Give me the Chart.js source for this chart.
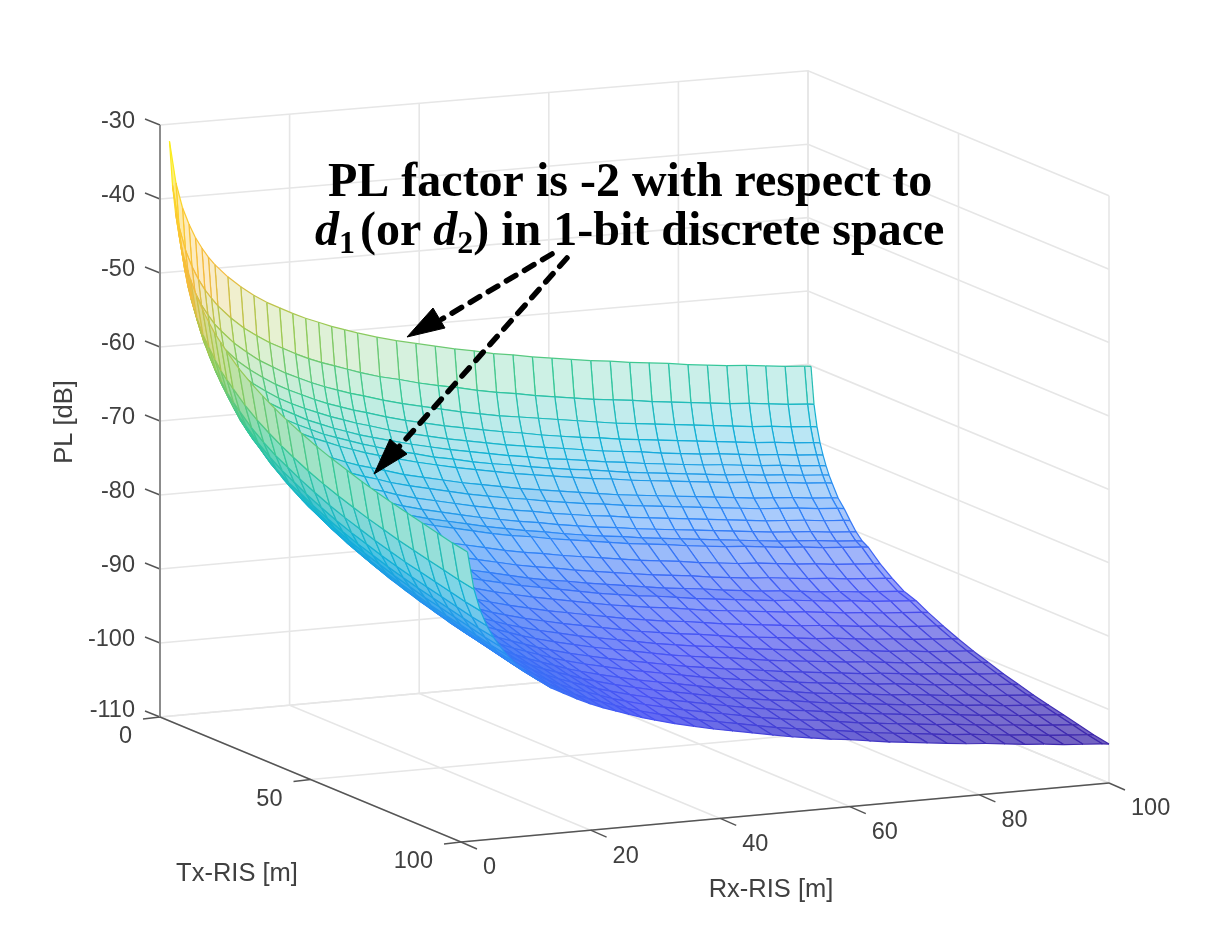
<!DOCTYPE html>
<html>
<head>
<meta charset="utf-8">
<title>PL surface</title>
<script src="https://cdn.jsdelivr.net/npm/chart.js@4/dist/chart.umd.min.js"></script>
<style>
  html, body { margin: 0; padding: 0; background: #fff; }
  canvas { display: block; }
</style>
</head>
<body>
<canvas id="myChart" width="1228" height="948"></canvas>
<script>
// axis ticks
const zTicks = [-30, -40, -50, -60, -70, -80, -90, -100, -110];
const rxTicks = [0, 20, 40, 60, 80, 100];
const txTicks = [0, 50, 100];

// mesh samples, metres
const txValues = [1,2,3,4,5,6,7,8,10,12,14,16,18,20,24,28,32,36,40,45,50,55,60,65,70,75,80,85,90,95,100];
const rxValues = [1,2,3,4,5,6,7,8,10,12,14,16,18,20,22,24,26,28,30,33,36,39,42,45,48,51,54,57,60,63,66,69,72,75,78,81,84,87,90,93,96,99,100];

// PL [dB], one row per txValues entry, one column per rxValues entry
const plRows = [
[-32.1,-37.8,-41.2,-43.5,-45.4,-46.9,-48.2,-49.3,-51.1,-52.6,-53.9,-55.0,-55.9,-56.8,-57.6,-58.3,-59.0,-59.6,-60.2,-61.0,-61.7,-62.3,-62.9,-63.5,-64.0,-64.6,-65.0,-65.5,-65.9,-66.3,-66.7,-67.0,-67.4,-67.7,-68.0,-68.4,-68.7,-69.0,-69.2,-69.5,-69.8,-70.0,-70.1],
[-37.9,-43.5,-46.8,-49.1,-50.9,-52.4,-53.6,-54.7,-56.5,-58.0,-59.2,-60.3,-61.2,-62.1,-62.9,-63.6,-64.2,-64.8,-65.4,-66.2,-66.8,-67.5,-68.1,-68.6,-69.2,-69.7,-70.1,-70.6,-71.0,-71.4,-71.8,-72.1,-72.4,-72.8,-73.1,-73.4,-73.7,-74.0,-74.2,-74.5,-74.8,-75.0,-75.1],
[-41.4,-46.9,-50.1,-52.4,-54.2,-55.6,-56.9,-57.9,-59.7,-61.1,-62.4,-63.4,-64.4,-65.2,-66.0,-66.7,-67.3,-67.9,-68.4,-69.2,-69.9,-70.5,-71.1,-71.7,-72.2,-72.7,-73.1,-73.5,-73.9,-74.3,-74.7,-75.1,-75.4,-75.7,-76.0,-76.3,-76.6,-76.9,-77.2,-77.4,-77.7,-77.9,-78.0],
[-43.8,-49.2,-52.4,-54.7,-56.5,-57.9,-59.1,-60.1,-61.9,-63.3,-64.5,-65.6,-66.5,-67.3,-68.1,-68.8,-69.4,-70.0,-70.5,-71.3,-72.0,-72.6,-73.2,-73.7,-74.2,-74.7,-75.1,-75.6,-76.0,-76.4,-76.7,-77.1,-77.4,-77.7,-78.0,-78.3,-78.6,-78.9,-79.2,-79.4,-79.7,-79.9,-80.0],
[-45.7,-51.1,-54.2,-56.5,-58.2,-59.6,-60.8,-61.9,-63.6,-65.0,-66.2,-67.3,-68.2,-69.0,-69.7,-70.4,-71.0,-71.6,-72.1,-72.9,-73.6,-74.2,-74.8,-75.3,-75.8,-76.3,-76.7,-77.1,-77.5,-77.9,-78.3,-78.6,-78.9,-79.3,-79.6,-79.9,-80.1,-80.4,-80.7,-80.9,-81.2,-81.4,-81.5],
[-47.2,-52.6,-55.7,-57.9,-59.6,-61.0,-62.2,-63.3,-65.0,-66.4,-67.6,-68.6,-69.5,-70.4,-71.1,-71.8,-72.4,-73.0,-73.5,-74.2,-74.9,-75.5,-76.1,-76.6,-77.1,-77.6,-78.0,-78.5,-78.8,-79.2,-79.6,-79.9,-80.3,-80.6,-80.9,-81.2,-81.4,-81.7,-82.0,-82.2,-82.5,-82.7,-82.8],
[-48.5,-53.8,-56.9,-59.2,-60.9,-62.3,-63.5,-64.5,-66.2,-67.6,-68.8,-69.8,-70.7,-71.5,-72.3,-72.9,-73.5,-74.1,-74.6,-75.4,-76.0,-76.7,-77.2,-77.8,-78.3,-78.7,-79.2,-79.6,-80.0,-80.3,-80.7,-81.1,-81.4,-81.7,-82.0,-82.3,-82.6,-82.8,-83.1,-83.3,-83.6,-83.8,-83.9],
[-49.6,-54.9,-58.0,-60.2,-61.9,-63.3,-64.5,-65.5,-67.2,-68.6,-69.8,-70.8,-71.7,-72.5,-73.2,-73.9,-74.5,-75.1,-75.6,-76.3,-77.0,-77.6,-78.2,-78.7,-79.2,-79.7,-80.1,-80.5,-80.9,-81.3,-81.6,-82.0,-82.3,-82.6,-82.9,-83.2,-83.5,-83.7,-84.0,-84.2,-84.5,-84.7,-84.8],
[-51.5,-56.8,-59.8,-62.0,-63.7,-65.1,-66.3,-67.3,-69.0,-70.4,-71.6,-72.6,-73.5,-74.3,-75.0,-75.7,-76.3,-76.8,-77.3,-78.1,-78.7,-79.3,-79.9,-80.4,-80.9,-81.4,-81.8,-82.2,-82.6,-83.0,-83.4,-83.7,-84.0,-84.3,-84.6,-84.9,-85.2,-85.5,-85.7,-85.9,-86.2,-86.4,-86.5],
[-53.0,-58.2,-61.3,-63.4,-65.1,-66.5,-67.6,-68.6,-70.3,-71.7,-72.8,-73.8,-74.7,-75.5,-76.2,-76.9,-77.5,-78.0,-78.6,-79.3,-79.9,-80.5,-81.1,-81.6,-82.1,-82.5,-83.0,-83.4,-83.8,-84.1,-84.5,-84.8,-85.1,-85.4,-85.7,-86.0,-86.3,-86.6,-86.8,-87.0,-87.3,-87.5,-87.6],
[-54.3,-59.5,-62.6,-64.7,-66.4,-67.8,-68.9,-69.9,-71.6,-73.0,-74.1,-75.1,-76.0,-76.8,-77.5,-78.2,-78.8,-79.3,-79.9,-80.6,-81.2,-81.8,-82.4,-82.9,-83.4,-83.8,-84.3,-84.7,-85.1,-85.4,-85.8,-86.1,-86.4,-86.7,-87.0,-87.3,-87.6,-87.9,-88.1,-88.3,-88.6,-88.8,-88.9],
[-55.5,-60.7,-63.8,-65.9,-67.6,-69.0,-70.1,-71.1,-72.8,-74.2,-75.3,-76.3,-77.2,-78.0,-78.7,-79.4,-80.0,-80.5,-81.1,-81.8,-82.4,-83.0,-83.6,-84.1,-84.6,-85.0,-85.5,-85.9,-86.3,-86.6,-87.0,-87.3,-87.6,-87.9,-88.2,-88.5,-88.8,-89.1,-89.3,-89.5,-89.8,-90.0,-90.1],
[-56.4,-61.6,-64.7,-66.8,-68.5,-69.9,-71.0,-72.0,-73.7,-75.1,-76.2,-77.2,-78.1,-78.9,-79.6,-80.3,-80.9,-81.4,-82.0,-82.7,-83.3,-83.9,-84.5,-85.0,-85.5,-85.9,-86.4,-86.8,-87.2,-87.5,-87.9,-88.2,-88.5,-88.8,-89.1,-89.4,-89.7,-90.0,-90.2,-90.4,-90.7,-90.9,-91.0],
[-57.3,-62.4,-65.5,-67.6,-69.3,-70.6,-71.7,-72.7,-74.4,-75.8,-76.9,-77.9,-78.8,-79.5,-80.2,-80.9,-81.5,-82.0,-82.6,-83.3,-83.9,-84.5,-85.1,-85.6,-86.0,-86.5,-86.9,-87.3,-87.7,-88.1,-88.4,-88.7,-89.1,-89.4,-89.7,-89.9,-90.2,-90.5,-90.7,-91.0,-91.2,-91.4,-91.5],
[-58.9,-64.0,-67.1,-69.2,-70.9,-72.2,-73.3,-74.3,-76.0,-77.4,-78.5,-79.5,-80.4,-81.1,-81.8,-82.5,-83.1,-83.6,-84.2,-84.9,-85.5,-86.1,-86.7,-87.2,-87.6,-88.1,-88.5,-88.9,-89.3,-89.7,-90.0,-90.3,-90.7,-91.0,-91.3,-91.5,-91.8,-92.1,-92.3,-92.6,-92.8,-93.0,-93.1],
[-60.2,-65.3,-68.4,-70.5,-72.2,-73.5,-74.6,-75.6,-77.3,-78.7,-79.8,-80.8,-81.7,-82.4,-83.1,-83.8,-84.4,-84.9,-85.5,-86.2,-86.8,-87.4,-88.0,-88.5,-88.9,-89.4,-89.8,-90.2,-90.6,-91.0,-91.3,-91.6,-92.0,-92.3,-92.6,-92.8,-93.1,-93.4,-93.6,-93.9,-94.1,-94.3,-94.4],
[-61.3,-66.4,-69.5,-71.6,-73.3,-74.6,-75.7,-76.7,-78.4,-79.8,-80.9,-81.9,-82.8,-83.5,-84.2,-84.9,-85.5,-86.0,-86.6,-87.3,-87.9,-88.5,-89.1,-89.6,-90.0,-90.5,-90.9,-91.3,-91.7,-92.1,-92.4,-92.7,-93.1,-93.4,-93.7,-93.9,-94.2,-94.5,-94.7,-95.0,-95.2,-95.4,-95.5],
[-62.3,-67.4,-70.4,-72.5,-74.1,-75.4,-76.6,-77.6,-79.2,-80.5,-81.7,-82.6,-83.5,-84.3,-85.0,-85.6,-86.2,-86.8,-87.3,-88.0,-88.6,-89.2,-89.7,-90.2,-90.7,-91.2,-91.6,-92.0,-92.3,-92.7,-93.1,-93.4,-93.7,-94.0,-94.3,-94.5,-94.8,-95.1,-95.3,-95.6,-95.8,-96.0,-96.1],
[-63.2,-68.3,-71.3,-73.4,-75.0,-76.3,-77.5,-78.5,-80.1,-81.4,-82.6,-83.5,-84.4,-85.2,-85.9,-86.5,-87.1,-87.7,-88.2,-88.9,-89.5,-90.1,-90.6,-91.1,-91.6,-92.1,-92.5,-92.9,-93.2,-93.6,-94.0,-94.3,-94.6,-94.9,-95.2,-95.4,-95.7,-96.0,-96.2,-96.5,-96.7,-96.9,-97.0],
[-64.2,-69.3,-72.3,-74.4,-76.0,-77.3,-78.5,-79.5,-81.1,-82.4,-83.6,-84.5,-85.4,-86.2,-86.9,-87.5,-88.1,-88.7,-89.2,-89.9,-90.5,-91.1,-91.6,-92.1,-92.6,-93.1,-93.5,-93.9,-94.2,-94.6,-95.0,-95.3,-95.6,-95.9,-96.2,-96.4,-96.7,-97.0,-97.2,-97.5,-97.7,-97.9,-98.0],
[-65.1,-70.2,-73.2,-75.3,-76.9,-78.2,-79.4,-80.4,-82.0,-83.3,-84.5,-85.4,-86.3,-87.1,-87.8,-88.4,-89.0,-89.6,-90.1,-90.8,-91.4,-92.0,-92.5,-93.0,-93.5,-94.0,-94.4,-94.8,-95.1,-95.5,-95.9,-96.2,-96.5,-96.8,-97.1,-97.3,-97.6,-97.9,-98.1,-98.4,-98.6,-98.8,-98.9],
[-65.9,-71.0,-74.0,-76.1,-77.7,-79.0,-80.2,-81.2,-82.8,-84.1,-85.3,-86.2,-87.1,-87.9,-88.6,-89.2,-89.8,-90.4,-90.9,-91.6,-92.2,-92.8,-93.3,-93.8,-94.3,-94.8,-95.2,-95.6,-95.9,-96.3,-96.7,-97.0,-97.3,-97.6,-97.9,-98.1,-98.4,-98.7,-98.9,-99.2,-99.4,-99.6,-99.7],
[-66.6,-71.7,-74.7,-76.8,-78.4,-79.7,-80.9,-81.9,-83.5,-84.8,-86.0,-86.9,-87.8,-88.6,-89.3,-89.9,-90.5,-91.1,-91.6,-92.3,-92.9,-93.5,-94.0,-94.5,-95.0,-95.5,-95.9,-96.3,-96.6,-97.0,-97.4,-97.7,-98.0,-98.3,-98.6,-98.8,-99.1,-99.4,-99.6,-99.9,-100.1,-100.3,-100.4],
[-67.3,-72.4,-75.4,-77.5,-79.1,-80.4,-81.6,-82.6,-84.2,-85.5,-86.7,-87.6,-88.5,-89.3,-90.0,-90.6,-91.2,-91.8,-92.3,-93.0,-93.6,-94.2,-94.7,-95.2,-95.7,-96.2,-96.6,-97.0,-97.3,-97.7,-98.1,-98.4,-98.7,-99.0,-99.3,-99.5,-99.8,-100.1,-100.3,-100.6,-100.8,-101.0,-101.1],
[-67.9,-73.0,-76.0,-78.1,-79.7,-81.0,-82.2,-83.2,-84.8,-86.1,-87.3,-88.2,-89.1,-89.9,-90.6,-91.2,-91.8,-92.4,-92.9,-93.6,-94.2,-94.8,-95.3,-95.8,-96.3,-96.8,-97.2,-97.6,-97.9,-98.3,-98.7,-99.0,-99.3,-99.6,-99.9,-100.1,-100.4,-100.7,-100.9,-101.2,-101.4,-101.6,-101.7],
[-68.5,-73.6,-76.6,-78.7,-80.3,-81.6,-82.8,-83.8,-85.4,-86.7,-87.9,-88.8,-89.7,-90.5,-91.2,-91.8,-92.4,-93.0,-93.5,-94.2,-94.8,-95.4,-95.9,-96.4,-96.9,-97.4,-97.8,-98.2,-98.5,-98.9,-99.3,-99.6,-99.9,-100.2,-100.5,-100.7,-101.0,-101.3,-101.5,-101.8,-102.0,-102.2,-102.3],
[-69.0,-74.1,-77.1,-79.2,-80.8,-82.1,-83.3,-84.3,-85.9,-87.2,-88.4,-89.3,-90.2,-91.0,-91.7,-92.3,-92.9,-93.5,-94.0,-94.7,-95.3,-95.9,-96.4,-96.9,-97.4,-97.9,-98.3,-98.7,-99.0,-99.4,-99.8,-100.1,-100.4,-100.7,-101.0,-101.2,-101.5,-101.8,-102.0,-102.3,-102.5,-102.7,-102.8],
[-69.5,-74.6,-77.6,-79.7,-81.3,-82.6,-83.8,-84.8,-86.4,-87.7,-88.9,-89.8,-90.7,-91.5,-92.2,-92.8,-93.4,-94.0,-94.5,-95.2,-95.8,-96.4,-96.9,-97.4,-97.9,-98.4,-98.8,-99.2,-99.5,-99.9,-100.3,-100.6,-100.9,-101.2,-101.5,-101.7,-102.0,-102.3,-102.5,-102.8,-103.0,-103.2,-103.3],
[-70.0,-75.1,-78.1,-80.2,-81.8,-83.1,-84.3,-85.3,-86.9,-88.2,-89.4,-90.3,-91.2,-92.0,-92.7,-93.3,-93.9,-94.5,-95.0,-95.7,-96.3,-96.9,-97.4,-97.9,-98.4,-98.9,-99.3,-99.7,-100.0,-100.4,-100.8,-101.1,-101.4,-101.7,-102.0,-102.2,-102.5,-102.8,-103.0,-103.3,-103.5,-103.7,-103.8],
[-70.5,-75.6,-78.6,-80.7,-82.3,-83.6,-84.8,-85.8,-87.4,-88.7,-89.9,-90.8,-91.7,-92.5,-93.2,-93.8,-94.4,-95.0,-95.5,-96.2,-96.8,-97.4,-97.9,-98.4,-98.9,-99.4,-99.8,-100.2,-100.5,-100.9,-101.3,-101.6,-101.9,-102.2,-102.5,-102.7,-103.0,-103.3,-103.5,-103.8,-104.0,-104.2,-104.3],
[-70.9,-76.0,-79.0,-81.1,-82.7,-84.0,-85.2,-86.2,-87.8,-89.1,-90.3,-91.2,-92.1,-92.9,-93.6,-94.2,-94.8,-95.4,-95.9,-96.6,-97.2,-97.8,-98.3,-98.8,-99.3,-99.8,-100.2,-100.6,-100.9,-101.3,-101.7,-102.0,-102.3,-102.6,-102.9,-103.1,-103.4,-103.7,-103.9,-104.2,-104.4,-104.6,-104.7]
];

// parula stops
const parula = [[62,38,168],[72,82,244],[46,135,247],[18,177,214],[55,200,151],[151,202,85],[245,186,61],[252,205,45],[249,251,20]];
const zMin = -104.7, zMax = -32.1;

function pl2rgb(z) {
  let f = (z - zMin) / (zMax - zMin) * (parula.length - 1);
  f = Math.max(0, Math.min(parula.length - 1.001, f));
  const i = Math.floor(f), w = f - i;
  return parula[i].map((v, k) => Math.round(v + (parula[i + 1][k] - v) * w));
}
function pl2color(z) {
  return 'rgb(' + pl2rgb(z).join(',') + ')';
}

// fixed view of the 3d box onto the flat chart plane
function project(rx, tx, pl) {
  return {
    x: 160 + 6.48 * rx + 3.01 * tx,
    y: 717 - 0.59 * rx + 1.25 * tx - (7.4 - 0.0006 * rx) * (pl + 110),
    z: pl
  };
}

function lineSet(points, color, width, extra) {
  return Object.assign({
    data: points, showLine: true, pointRadius: 0, borderColor: color,
    borderWidth: width, tension: 0, clip: false
  }, extra || {});
}

// the picture's mesh is much finer than this table, so the face gets the tone
// its unresolved lines would give: line length per area of one drawn cell
function faceTone(cell, dRx, dTx, z) {
  const dist = (a, b) => Math.hypot(a.x - b.x, a.y - b.y);
  let area = 0;
  for (let k = 0; k < 4; k++) area += cell[k].x * cell[k + 1].y - cell[k + 1].x * cell[k].y;
  area = Math.max(Math.abs(area) / 2, 1);
  const alongRx = (dist(cell[0], cell[1]) + dist(cell[3], cell[2])) / 2;
  const alongTx = (dist(cell[1], cell[2]) + dist(cell[0], cell[3])) / 2;
  const cover = Math.min(0.94, 1 - Math.exp(-1.6 * (dTx * alongRx + dRx * alongTx) / area));
  const c = pl2rgb(z).map(v => Math.round(255 + (v - 255) * cover));
  return 'rgb(' + c.join(',') + ')';
}

const datasets = [];

// arrows, on top of everything
const arrowBlack = '#000';
datasets.push(lineSet([{x:552,y:254},{x:442,y:319}], arrowBlack, 5.5, {borderDash:[11,10], borderCapStyle:'round'}));
datasets.push(lineSet([{x:567,y:258},{x:397,y:449}], arrowBlack, 5.5, {borderDash:[11,10], borderCapStyle:'round'}));
datasets.push(lineSet([{x:407,y:337},{x:433,y:308},{x:445,y:328},{x:407,y:337}], arrowBlack, 1, {face:arrowBlack}));
datasets.push(lineSet([{x:374,y:474},{x:390,y:439},{x:407,y:454},{x:374,y:474}], arrowBlack, 1, {face:arrowBlack}));

// mesh cells, nearest first so the far ones are painted underneath
const meshColor = (ctx) => {
  const d = ctx.chart.data.datasets[ctx.datasetIndex].data;
  return pl2color((d[ctx.p0DataIndex].z + d[ctx.p1DataIndex].z) / 2);
};
for (let i = txValues.length - 2; i >= 0; i--) {
  for (let j = 0; j < rxValues.length - 1; j++) {
    const cell = [
      project(rxValues[j], txValues[i], plRows[i][j]),
      project(rxValues[j + 1], txValues[i], plRows[i][j + 1]),
      project(rxValues[j + 1], txValues[i + 1], plRows[i + 1][j + 1]),
      project(rxValues[j], txValues[i + 1], plRows[i + 1][j]),
      project(rxValues[j], txValues[i], plRows[i][j])
    ];
    const zMean = (cell[0].z + cell[1].z + cell[2].z + cell[3].z) / 4;
    const tone = faceTone(cell, rxValues[j + 1] - rxValues[j], txValues[i + 1] - txValues[i], zMean);
    datasets.push(lineSet(cell, '#888', 1.2, {face:tone, segment:{borderColor:meshColor}}));
  }
}

// axis rulers and tick marks
const axisDark = '#555', axisGrey = '#8c8c8c', gridGrey = '#e6e6e6';
const floor = -110, top3d = -30;
datasets.push(lineSet([project(0,0,floor), project(0,100,floor), project(100,100,floor)], axisDark, 1.4));
datasets.push(lineSet([project(0,0,floor), project(0,0,top3d)], axisGrey, 2));
zTicks.forEach(z => {
  const p = project(0,0,z);
  datasets.push(lineSet([p, {x:p.x-15, y:p.y-6}], axisDark, 1.4));
});
txTicks.forEach(t => {
  const p = project(0,t,floor);
  datasets.push(lineSet([p, {x:p.x-17, y:p.y+2}], axisDark, 1.4));
});
rxTicks.forEach(r => {
  const p = project(r,100,floor);
  datasets.push(lineSet([p, {x:p.x+16, y:p.y+7}], axisDark, 1.4));
});

// back walls and floor grid
zTicks.forEach(z => {
  datasets.push(lineSet([project(0,0,z), project(100,0,z), project(100,100,z)], gridGrey, 1.6));
});
rxTicks.forEach(r => {
  datasets.push(lineSet([project(r,100,floor), project(r,0,floor), project(r,0,top3d)], gridGrey, 1.6));
});
txTicks.forEach(t => {
  datasets.push(lineSet([project(0,t,floor), project(100,t,floor), project(100,t,top3d)], gridGrey, 1.6));
});

const faces = {
  id: 'faces',
  // mesh faces, arrow heads: fill the polygon the dataset's points make
  beforeDatasetDraw(chart, args) {
    const ds = chart.data.datasets[args.index];
    if (!ds.face) return;
    const pts = args.meta.data, c = chart.ctx;
    c.save();
    c.fillStyle = ds.face;
    c.beginPath();
    pts.forEach((p, k) => k ? c.lineTo(p.x, p.y) : c.moveTo(p.x, p.y));
    c.closePath();
    c.fill();
    c.restore();
  }
};

const texts = {
  id: 'texts',
  afterDraw(chart) {
    const c = chart.ctx, sx = chart.scales.x, sy = chart.scales.y;
    const put = (s, x, y, align) => {
      c.textAlign = align;
      c.fillText(s, sx.getPixelForValue(x), sy.getPixelForValue(y));
    };
    c.save();
    c.fillStyle = '#404040';
    c.textBaseline = 'middle';
    c.font = '23.5px "Liberation Sans"';
    zTicks.forEach(z => {
      const p = project(0,0,z);
      put(String(z), 135, p.y - (z === -110 ? 6 : 3), 'right');
    });
    txTicks.forEach(t => {
      const p = project(0,t,floor);
      put(String(t), p.x - 28, p.y + 20, 'right');
    });
    rxTicks.forEach(r => {
      const p = project(r,100,floor);
      put(String(r), p.x + 22, p.y + 26, 'left');
    });
    c.font = '25.5px "Liberation Sans"';
    put('Tx-RIS [m]', 237, 874, 'center');
    put('Rx-RIS [m]', 771, 890, 'center');
    c.translate(65, 422);
    c.rotate(-Math.PI / 2);
    c.textAlign = 'center';
    c.fillText('PL [dB]', 0, 0);
    c.restore();

    // annotation
    c.save();
    c.fillStyle = '#000';
    c.textBaseline = 'alphabetic';
    c.textAlign = 'left';
    const serif = '48px "Liberation Serif"', sub = 'bold 32px "Liberation Serif"';
    c.font = 'bold ' + serif;
    c.fillText('PL factor is -2 with respect to', 328, 196);
    const parts = [
      ['d', 'italic bold ' + serif, 0, 0], ['1', sub, 8, -7],
      [' (or ', 'bold ' + serif, 0, 0], ['d', 'italic bold ' + serif, 0, 0], ['2', sub, 8, 0],
      [') in 1-bit discrete space', 'bold ' + serif, 0, 0]
    ];
    let x = 315;
    parts.forEach(p => {
      c.font = p[1];
      c.fillText(p[0], x, 245 + p[2]);
      x += c.measureText(p[0]).width + p[3];
    });
    c.restore();
  }
};

const ctx = document.getElementById('myChart').getContext('2d');
new Chart(ctx, {
  type: 'scatter',
  data: { datasets: datasets },
  options: {
    responsive: false,
    animation: false,
    devicePixelRatio: 1,
    events: [],
    layout: { padding: 0 },
    plugins: { legend: { display: false }, tooltip: { enabled: false } },
    scales: {
      x: { type: 'linear', min: 0, max: 1228, display: false },
      y: { type: 'linear', min: 0, max: 948, reverse: true, display: false }
    }
  },
  plugins: [faces, texts]
});
</script>
</body>
</html>
